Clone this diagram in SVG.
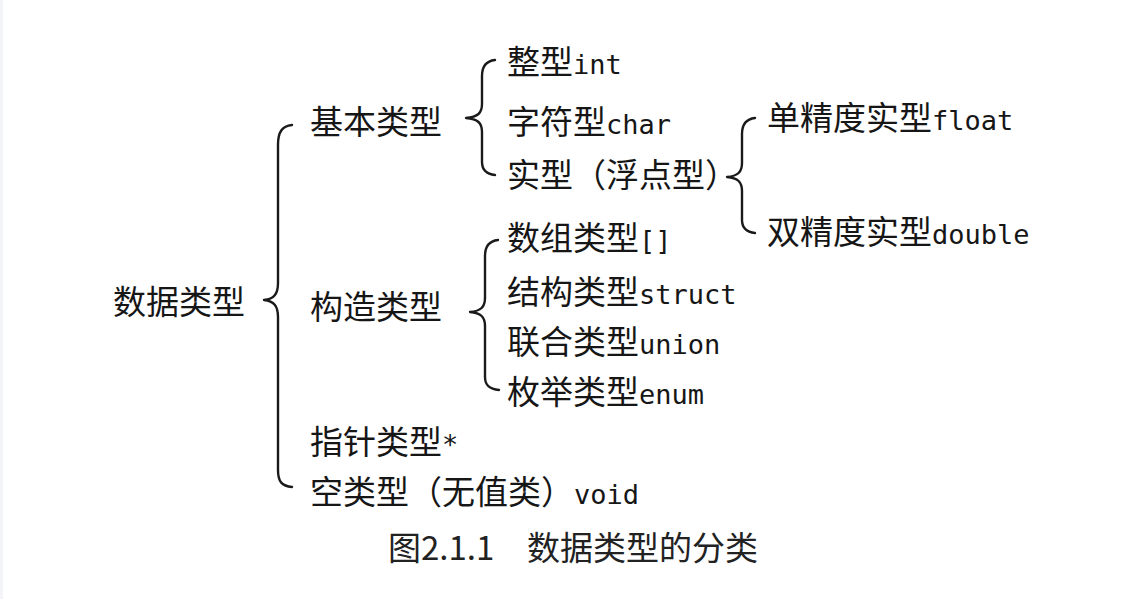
<svg xmlns="http://www.w3.org/2000/svg" width="1139" height="599" viewBox="0 0 1139 599">
<style>
text{font-family:"Noto Sans CJK SC","Noto Sans",sans-serif;font-size:33px;fill:#161616}
.m{font-family:"DejaVu Sans Mono","Liberation Mono","Noto Sans CJK SC",monospace;font-size:27px}
.cap{font-family:"Noto Sans CJK SC","Noto Sans",sans-serif;font-size:33px;fill:#222}
.brace{fill:none;stroke:#1a1a1a;stroke-width:2.4;stroke-linecap:round;stroke-linejoin:round}
</style>
<rect x="0" y="0" width="1139" height="599" fill="#ffffff"/>
<rect x="0" y="0" width="3" height="599" fill="#f3f4f7"/>
<g id="connectors">
<path class="brace" d="M292,125 C282,126 278,132 278,145 L278,283 C278,294 274,299 264,300 C274,301 278,306 278,317 L278,470 C278,482 282,486 292,487"/>
<path class="brace" d="M495,60 C486,61 482,66 482,76 L482,104 C482,113 478,117 466,118 C478,119 482,123 482,132 L482,162 C482,170 486,174 495,175"/>
<path class="brace" d="M498,240 C489,241 485,246 485,256 L485,298 C485,307 481,311 470,312 C481,313 485,317 485,326 L485,377 C485,385 489,389 499,390"/>
<path class="brace" d="M755,118 C746,119 742,124 742,134 L742,163 C742,172 738,176 727,177 C738,178 742,182 742,191 L742,220 C742,228 746,232 755,233"/>
</g>
<g id="root"><text x="113" y="314">数据类型</text></g>
<g id="basic"><text x="310" y="134">基本类型</text></g>
<g id="construct"><text x="310" y="319">构造类型</text></g>
<g id="pointer"><text x="310" y="454">指针类型<tspan class="m">*</tspan></text></g>
<g id="void"><text x="310" y="504">空类型（无值类）<tspan class="m">void</tspan></text></g>
<g id="int"><text x="507" y="74">整型<tspan class="m">int</tspan></text></g>
<g id="char"><text x="507" y="134">字符型<tspan class="m">char</tspan></text></g>
<g id="real"><text x="507" y="187">实型（浮点型）</text></g>
<g id="float"><text x="767" y="130">单精度实型<tspan class="m">float</tspan></text></g>
<g id="double"><text x="767" y="244">双精度实型<tspan class="m">double</tspan></text></g>
<g id="array"><text x="507" y="250">数组类型<tspan class="m">[]</tspan></text></g>
<g id="struct"><text x="507" y="304">结构类型<tspan class="m">struct</tspan></text></g>
<g id="union"><text x="507" y="354">联合类型<tspan class="m">union</tspan></text></g>
<g id="enum"><text x="507" y="404">枚举类型<tspan class="m">enum</tspan></text></g>
<g id="caption"><text class="cap" x="388" y="560">图2.1.1</text><text class="cap" x="527" y="560">数据类型的分类</text></g>
</svg>
